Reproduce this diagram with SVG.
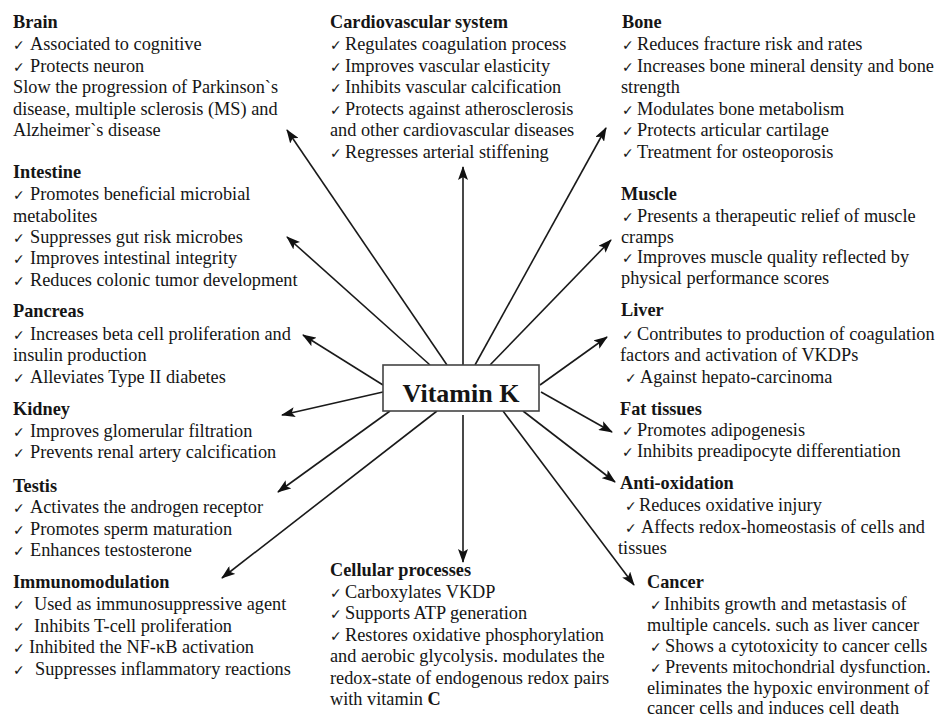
<svg xmlns="http://www.w3.org/2000/svg" width="940" height="720" viewBox="0 0 940 720">
<style>
text{font-family:"Liberation Serif","Times New Roman",serif;font-size:18.3px;fill:#151515}
.h{font-weight:bold}
.ck{font-family:"DejaVu Sans",sans-serif;font-size:14px}
.vk{font-size:26px;font-weight:bold;text-anchor:middle}
.c line{stroke:#1a1a1a;stroke-width:1.6;marker-end:url(#ah)}
</style>
<defs>
<marker id="ah" viewBox="0 0 14 10" refX="13" refY="5" markerWidth="14" markerHeight="10" markerUnits="userSpaceOnUse" orient="auto">
<path d="M0,0 L14,5 L0,10 L3,5 z" fill="#111"/>
</marker>
</defs>
<rect width="940" height="720" fill="#fff"/>
<g class="c" id="connectors">
<line x1="447" y1="365" x2="287" y2="130"/>
<line x1="430" y1="365" x2="287" y2="237"/>
<line x1="463" y1="365" x2="463" y2="167"/>
<line x1="475" y1="365" x2="606" y2="128"/>
<line x1="490" y1="365" x2="611" y2="240"/>
<line x1="540" y1="385" x2="607" y2="337"/>
<line x1="383" y1="385" x2="303" y2="335"/>
<line x1="383" y1="392" x2="282" y2="415"/>
<line x1="541" y1="392" x2="612" y2="432"/>
<line x1="390" y1="411" x2="278" y2="492"/>
<line x1="437" y1="411" x2="222" y2="578"/>
<line x1="463" y1="415" x2="463" y2="562"/>
<line x1="523" y1="411" x2="615" y2="482"/>
<line x1="503" y1="411" x2="634" y2="585"/>
</g>
<g id="vitk">
<rect x="383" y="365" width="156" height="46" fill="#fff" stroke="#444" stroke-width="1.6"/>
<text class="vk" x="461" y="402">Vitamin K</text>
</g>
<g id="brain">
<text class="h" x="13" y="28">Brain</text>
<text x="13" y="50"><tspan class="ck">✓</tspan><tspan x="30">Associated to cognitive</tspan></text>
<text x="13" y="71.5"><tspan class="ck">✓</tspan><tspan x="30">Protects neuron</tspan></text>
<text x="13" y="93">Slow the progression of Parkinson`s</text>
<text x="13" y="114.5">disease, multiple sclerosis (MS) and</text>
<text x="13" y="136">Alzheimer`s disease</text>
</g>
<g id="cardio">
<text class="h" x="330" y="28">Cardiovascular system</text>
<text x="330" y="50"><tspan class="ck">✓</tspan><tspan x="345">Regulates coagulation process</tspan></text>
<text x="330" y="71.5"><tspan class="ck">✓</tspan><tspan x="345">Improves vascular elasticity</tspan></text>
<text x="330" y="93"><tspan class="ck">✓</tspan><tspan x="345">Inhibits vascular calcification</tspan></text>
<text x="330" y="114.5"><tspan class="ck">✓</tspan><tspan x="345">Protects against atherosclerosis</tspan></text>
<text x="330" y="136">and other cardiovascular diseases</text>
<text x="330" y="157.5"><tspan class="ck">✓</tspan><tspan x="345">Regresses arterial stiffening</tspan></text>
</g>
<g id="bone">
<text class="h" x="622" y="28">Bone</text>
<text x="622" y="50"><tspan class="ck">✓</tspan><tspan x="637">Reduces fracture risk and rates</tspan></text>
<text x="622" y="71.5"><tspan class="ck">✓</tspan><tspan x="637">Increases bone mineral density and bone</tspan></text>
<text x="621" y="93">strength</text>
<text x="622" y="114.5"><tspan class="ck">✓</tspan><tspan x="637">Modulates bone metabolism</tspan></text>
<text x="622" y="136"><tspan class="ck">✓</tspan><tspan x="637">Protects articular cartilage</tspan></text>
<text x="622" y="157.5"><tspan class="ck">✓</tspan><tspan x="637">Treatment for osteoporosis</tspan></text>
</g>
<g id="intestine">
<text class="h" x="13" y="178">Intestine</text>
<text x="13" y="200"><tspan class="ck">✓</tspan><tspan x="30">Promotes beneficial microbial</tspan></text>
<text x="13" y="221.5">metabolites</text>
<text x="13" y="243"><tspan class="ck">✓</tspan><tspan x="30">Suppresses gut risk microbes</tspan></text>
<text x="13" y="264"><tspan class="ck">✓</tspan><tspan x="30">Improves intestinal integrity</tspan></text>
<text x="13" y="285.5"><tspan class="ck">✓</tspan><tspan x="30">Reduces colonic tumor development</tspan></text>
</g>
<g id="muscle">
<text class="h" x="621" y="200">Muscle</text>
<text x="622" y="222"><tspan class="ck">✓</tspan><tspan x="637">Presents a therapeutic relief of muscle</tspan></text>
<text x="621" y="242.5">cramps</text>
<text x="622" y="263"><tspan class="ck">✓</tspan><tspan x="637">Improves muscle quality reflected by</tspan></text>
<text x="621" y="284">physical performance scores</text>
</g>
<g id="pancreas">
<text class="h" x="13" y="317">Pancreas</text>
<text x="13" y="339.5"><tspan class="ck">✓</tspan><tspan x="30">Increases beta cell proliferation and</tspan></text>
<text x="13" y="361">insulin production</text>
<text x="13" y="382.5"><tspan class="ck">✓</tspan><tspan x="30">Alleviates Type II diabetes</tspan></text>
</g>
<g id="liver">
<text class="h" x="621" y="316">Liver</text>
<text x="622" y="339.5"><tspan class="ck">✓</tspan><tspan x="637">Contributes to production of coagulation</tspan></text>
<text x="620" y="361">factors and activation of VKDPs</text>
<text x="625" y="382.5"><tspan class="ck">✓</tspan><tspan x="640">Against hepato-carcinoma</tspan></text>
</g>
<g id="kidney">
<text class="h" x="13" y="415">Kidney</text>
<text x="13" y="436.5"><tspan class="ck">✓</tspan><tspan x="30">Improves glomerular filtration</tspan></text>
<text x="13" y="458"><tspan class="ck">✓</tspan><tspan x="30">Prevents renal artery calcification</tspan></text>
</g>
<g id="fat">
<text class="h" x="620" y="415">Fat tissues</text>
<text x="622" y="435.5"><tspan class="ck">✓</tspan><tspan x="637">Promotes adipogenesis</tspan></text>
<text x="622" y="457"><tspan class="ck">✓</tspan><tspan x="637">Inhibits preadipocyte differentiation</tspan></text>
</g>
<g id="testis">
<text class="h" x="13" y="492">Testis</text>
<text x="13" y="513"><tspan class="ck">✓</tspan><tspan x="30">Activates the androgen receptor</tspan></text>
<text x="13" y="534.5"><tspan class="ck">✓</tspan><tspan x="30">Promotes sperm maturation</tspan></text>
<text x="13" y="556"><tspan class="ck">✓</tspan><tspan x="30">Enhances testosterone</tspan></text>
</g>
<g id="antiox">
<text class="h" x="620" y="489">Anti-oxidation</text>
<text x="625" y="511"><tspan class="ck">✓</tspan><tspan x="639">Reduces oxidative injury</tspan></text>
<text x="625" y="532.5"><tspan class="ck">✓</tspan><tspan x="641">Affects redox-homeostasis of cells and</tspan></text>
<text x="618" y="554">tissues</text>
</g>
<g id="immuno">
<text class="h" x="13" y="588">Immunomodulation</text>
<text x="13" y="610"><tspan class="ck">✓</tspan><tspan x="34">Used as immunosuppressive agent</tspan></text>
<text x="13" y="631.5"><tspan class="ck">✓</tspan><tspan x="34">Inhibits T-cell proliferation</tspan></text>
<text x="13" y="653"><tspan class="ck">✓</tspan><tspan x="29">Inhibited the NF-κB activation</tspan></text>
<text x="13" y="674.5"><tspan class="ck">✓</tspan><tspan x="35">Suppresses inflammatory reactions</tspan></text>
</g>
<g id="cellular">
<text class="h" x="330" y="576">Cellular processes</text>
<text x="330" y="597.5"><tspan class="ck">✓</tspan><tspan x="345">Carboxylates VKDP</tspan></text>
<text x="330" y="619"><tspan class="ck">✓</tspan><tspan x="345">Supports ATP generation</tspan></text>
<text x="330" y="640.5"><tspan class="ck">✓</tspan><tspan x="345">Restores oxidative phosphorylation</tspan></text>
<text x="330" y="662">and aerobic glycolysis. modulates the</text>
<text x="330" y="683.5">redox-state of endogenous redox pairs</text>
<text x="330" y="705">with vitamin <tspan class="h">C</tspan></text>
</g>
<g id="cancer">
<text class="h" x="647" y="588">Cancer</text>
<text x="650" y="609.5"><tspan class="ck">✓</tspan><tspan x="664">Inhibits growth and metastasis of</tspan></text>
<text x="647" y="630.5">multiple cancels. such as liver cancer</text>
<text x="650" y="651.5"><tspan class="ck">✓</tspan><tspan x="665">Shows a cytotoxicity to cancer cells</tspan></text>
<text x="650" y="672.5"><tspan class="ck">✓</tspan><tspan x="665">Prevents mitochondrial dysfunction.</tspan></text>
<text x="647" y="693.5">eliminates the hypoxic environment of</text>
<text x="647" y="714">cancer cells and induces cell death</text>
</g>
</svg>
